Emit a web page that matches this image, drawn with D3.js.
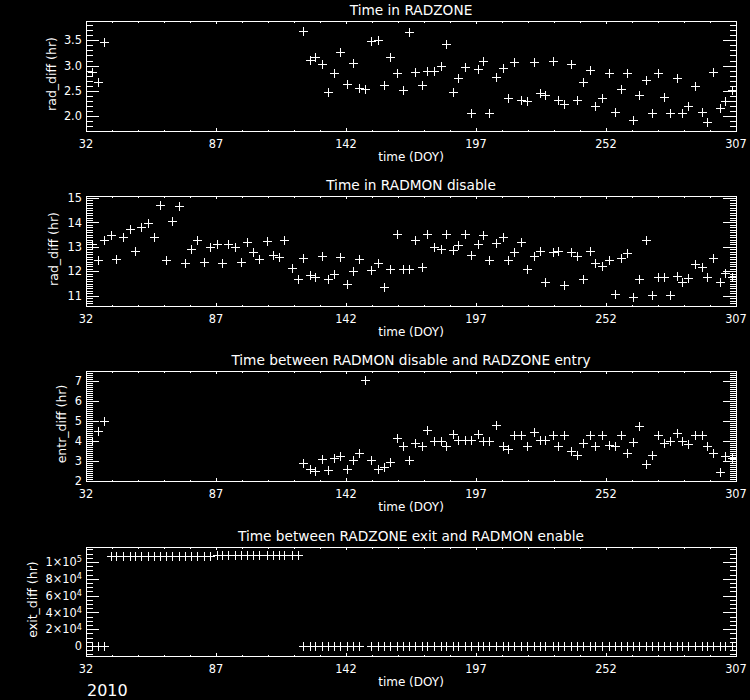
<!DOCTYPE html>
<html>
<head>
<meta charset="utf-8">
<script src="https://d3js.org/d3.v7.min.js"></script>
<style>
  body { margin: 0; background: #000; }
  text { font-family: "DejaVu Sans", sans-serif; fill: #fff; }
</style>
</head>
<body>
<div id="chart"></div>
<script>
// orbit times (DOY 2010) and the four measured differences (hr), null = no point
var doy = [34.5, 37.2, 39.8, 42.6, 44.8, 47.8, 50.5, 52.9, 55.4, 58.4,
  60.9, 63.5, 66.0, 68.5, 71.5, 74.0, 76.6, 79.1, 82.1, 84.5,
  87.3, 89.7, 92.2, 95.2, 97.7, 100.3, 102.8, 105.3, 108.4, 111.0,
  113.5, 115.9, 119.0, 121.6, 124.0, 126.6, 129.0, 131.9, 134.5, 137.1,
  139.6, 142.3, 145.1, 147.7, 150.2, 152.6, 155.7, 158.2, 160.6, 163.5,
  166.3, 168.8, 171.2, 174.0, 176.4, 179.4, 182.0, 184.5, 187.1, 189.5,
  192.4, 195.0, 197.7, 200.1, 202.7, 205.6, 208.3, 210.7, 213.2, 216.1,
  218.7, 221.5, 224.0, 226.3, 229.4, 231.8, 234.4, 237.3, 239.9, 242.4,
  245.3, 247.4, 250.2, 253.3, 255.6, 258.2, 260.8, 263.3, 266.1, 268.8,
  271.3, 273.9, 276.6, 279.1, 281.9, 284.2, 286.9, 289.7, 292.5, 294.8,
  297.4, 300.3, 302.4, 305.2];

var radDiff = [2.88, 2.67, 3.46, null, null, null, null, null, null, null,
  null, null, null, null, null, null, null, null, null, null,
  null, null, null, null, null, null, null, null, null, null,
  null, null, null, null, 3.69, 3.11, 3.16, 3.03, 2.47, 2.85,
  3.26, 2.64, 3.05, 2.55, 2.53, 3.49, 3.51, 2.61, 3.16, 2.86,
  2.52, 3.66, 2.87, 2.62, 2.89, 2.89, 2.99, 3.42, 2.47, 2.76,
  2.98, 2.07, 2.93, 3.10, 2.07, 2.78, 2.96, 2.36, 3.07, 2.32,
  2.30, 3.07, 2.45, 2.42, 3.09, 2.32, 2.24, 3.03, 2.32, 2.67,
  2.91, 2.20, 2.36, 2.85, 2.09, 2.53, 2.85, 1.93, 2.43, 2.72,
  2.06, 2.85, 2.38, 2.06, 2.75, 2.06, 2.20, 2.60, 2.08, 1.88,
  2.87, 2.16, 2.30, 2.52];

var disDiff = [13.11, 12.46, 13.28, 13.48, 12.49, 13.39, 13.71, 12.84, 13.80, 13.99,
  13.39, 14.71, 12.46, 14.07, 14.67, 12.32, 12.91, 13.28, 12.39, 13.00,
  13.10, 12.32, 13.10, 12.98, 12.39, 13.21, 12.80, 12.49, 13.24, 12.66,
  12.57, 13.28, 12.12, 11.67, 12.53, 11.84, 11.78, 12.62, 11.67, 11.89,
  12.57, 11.46, 12.01, 12.49, null, 12.05, 12.32, 11.34, 12.08, 13.52,
  12.10, 12.10, 13.30, 12.16, 13.51, 13.00, 12.91, 13.52, 12.87, 13.07,
  13.51, 12.66, 13.11, 13.48, 12.46, 13.14, 13.41, 12.46, 12.80, 13.21,
  12.08, 12.62, 12.84, 11.57, 12.80, 12.84, 11.44, 12.80, 12.62, 11.67,
  12.84, 12.35, 12.21, 12.46, 11.07, 12.53, 12.76, 10.93, 11.67, 13.28,
  11.03, 11.75, 11.75, 11.03, 11.81, 11.57, 11.71, 12.30, 12.19, 11.75,
  12.53, 11.57, 11.94, 11.75];

var entrDiff = [3.98, 4.51, 5.02, null, null, null, null, null, null, null,
  null, null, null, null, null, null, null, null, null, null,
  null, null, null, null, null, null, null, null, null, null,
  null, null, null, null, 2.90, 2.62, 2.52, 3.10, 2.57, 3.15,
  3.23, 2.62, 3.07, 3.40, 7.05, 3.07, 2.62, 2.68, 2.95, 4.15,
  3.73, 3.07, 3.90, 3.73, 4.56, 3.98, 3.98, 3.73, 4.34, 4.06,
  4.06, 4.06, 4.34, 3.98, 3.98, 4.81, 3.73, 3.61, 4.31, 4.31,
  3.73, 4.44, 4.06, 4.06, 4.31, 3.73, 4.31, 3.48, 3.32, 3.90,
  4.31, 3.73, 4.31, 3.81, 3.73, 4.28, 3.40, 3.95, 4.73, 2.85,
  3.32, 4.28, 3.90, 3.98, 4.39, 3.98, 3.85, 4.31, 4.28, 3.73,
  3.40, 2.45, 3.23, 3.15];

var exitDiff = [0, 0, 0, 107600, 107600, 107600, 107600, 107600, 107600, 107600,
  107600, 107600, 107600, 107600, 107600, 107600, 107600, 107600, 107600, 107600,
  108400, 108400, 108400, 108400, 108400, 108400, 108400, 108400, 108400, 108400,
  108400, 108400, 108400, 108400, 0, 0, 0, 0, 0, 0,
  0, 0, 0, 0, null, 0, 0, 0, 0, 0,
  0, 0, 0, 0, 0, 0, 0, 0, 0, 0,
  0, 0, 0, 0, 0, 0, 0, 0, 0, 0,
  0, 0, 0, 0, 0, 0, 0, 0, 0, 0,
  0, 0, 0, 0, 0, 0, 0, 0, 0, 0,
  0, 0, 0, 0, 0, 0, 0, 0, 0, 0,
  0, 0, 0, 0];

var xTicks = [32, 87, 142, 197, 252, 307];
var panelTitles = ["Time in RADZONE", "Time in RADMON disable",
  "Time between RADMON disable and RADZONE entry", "Time between RADZONE exit and RADMON enable"];
var yTitles = ["rad_diff (hr)", "rad_diff (hr)", "entr_diff (hr)", "exit_diff (hr)"];
var yTicks1 = [2.0, 2.5, 3.0, 3.5];
var yTicks2 = [11, 12, 13, 14, 15];
var yTicks3 = [2, 3, 4, 5, 6, 7];
var yTicks4 = [0, 20000, 40000, 60000, 80000, 100000];

var W = 750, H = 700;
var left = 86, right = 736;

var svg = d3.select("#chart").append("svg")
  .attr("width", W)
  .attr("height", H);

svg.append("rect").attr("width", W).attr("height", H).attr("fill", "#000");

var x = d3.scaleLinear().domain([32, 307]).range([left, right]);
var xMinor = d3.range(32, 308, 11);

function sci(v) {
  if (v === 0) return null;
  var e = Math.floor(Math.log10(v) + 1e-9);
  return [Math.round(v / Math.pow(10, e)), e];
}

function drawPanel(p) {
  var top = p.top, bottom = p.bottom;
  var y = d3.scaleLinear().domain(p.domain).range([bottom, top]);
  var g = svg.append("g").attr("shape-rendering", "crispEdges");

  // minor ticks
  var yMinor = d3.range(Math.ceil(p.domain[0] / p.minor) * p.minor, p.domain[1], p.minor);
  g.selectAll(".ymin").data(yMinor).join("path")
    .attr("d", function(d) {
      var yy = Math.round(y(d)) + 0.5;
      return "M" + left + "," + yy + "h6.5M" + right + "," + yy + "h-6.5";
    })
    .attr("stroke", "#fff");
  g.selectAll(".xmin").data(xMinor).join("path")
    .attr("d", function(d) {
      var xx = Math.round(x(d)) + 0.5;
      return "M" + xx + "," + bottom + "v-1.5M" + xx + "," + top + "v1.5";
    })
    .attr("stroke", "#fff");

  // major ticks
  g.selectAll(".ymaj").data(p.yTicks).join("path")
    .attr("d", function(d) {
      var yy = Math.round(y(d)) + 0.5;
      return "M" + left + "," + yy + "h13M" + right + "," + yy + "h-13";
    })
    .attr("stroke", "#fff");
  g.selectAll(".xmaj").data(xTicks).join("path")
    .attr("d", function(d) {
      var xx = Math.round(x(d)) + 0.5;
      return "M" + xx + "," + bottom + "v-3M" + xx + "," + top + "v3";
    })
    .attr("stroke", "#fff");

  // frame
  g.append("rect")
    .attr("x", left + 0.5).attr("y", top + 0.5)
    .attr("width", right - left).attr("height", bottom - top)
    .attr("fill", "none").attr("stroke", "#fff");

  // tick labels
  svg.selectAll(null).data(xTicks).join("text")
    .attr("x", function(d) { return x(d); })
    .attr("y", bottom + 16.5)
    .attr("text-anchor", "middle")
    .attr("font-size", 11.4)
    .text(function(d) { return d; });

  var yl = svg.selectAll(null).data(p.yTicks).join("text")
    .attr("x", 82)
    .attr("y", function(d) { return y(d) + 4.2; })
    .attr("text-anchor", "end")
    .attr("font-size", 11.4);
  if (p.sci) {
    yl.each(function(d) {
      var t = d3.select(this), s = sci(d);
      if (!s) { t.text("0"); return; }
      t.append("tspan").text(s[0] + "\u00d710");
      t.append("tspan").attr("dy", "-0.45em").attr("font-size", "0.72em").text(s[1]);
    });
  } else {
    yl.text(function(d) { return d3.format(p.fmt)(d); });
  }

  // titles
  svg.append("text")
    .attr("x", (left + right) / 2).attr("y", top - 6)
    .attr("text-anchor", "middle").attr("font-size", 13.7)
    .text(p.title);
  svg.append("text")
    .attr("x", (left + right) / 2).attr("y", bottom + 30)
    .attr("text-anchor", "middle").attr("font-size", 12)
    .text("time (DOY)");
  svg.append("text")
    .attr("transform", "translate(" + p.yTitleX + "," + ((top + bottom) / 2 - 2) + ") rotate(-90)")
    .attr("text-anchor", "middle").attr("font-size", 12.5)
    .text(p.yTitle);

  // data: plus symbols
  var pts = doy.map(function(d, i) { return [d, p.values[i]]; })
    .filter(function(d) { return d[1] !== null; });
  g.selectAll(".pt").data(pts).join("path")
    .attr("d", function(d) {
      var cx = Math.round(x(d[0])) + 0.5, cy = Math.round(y(d[1])) + 0.5;
      return "M" + (cx - 4.5) + "," + cy + "h9M" + cx + "," + (cy - 4.5) + "v9";
    })
    .attr("stroke", "#fff").attr("fill", "none");
}

drawPanel({ top: 21, bottom: 131, domain: [1.71, 3.88], yTicks: yTicks1, minor: 0.1, fmt: ".1f",
  values: radDiff, title: panelTitles[0], yTitle: yTitles[0], yTitleX: 56 });
drawPanel({ top: 196, bottom: 306, domain: [10.58, 15.08], yTicks: yTicks2, minor: 0.1, fmt: "d",
  values: disDiff, title: panelTitles[1], yTitle: yTitles[1], yTitleX: 58 });
drawPanel({ top: 371, bottom: 481, domain: [2.0, 7.5], yTicks: yTicks3, minor: 0.1, fmt: "d",
  values: entrDiff, title: panelTitles[2], yTitle: yTitles[2], yTitleX: 66 });
drawPanel({ top: 547, bottom: 656, domain: [-11900, 117800], yTicks: yTicks4, minor: 5000, sci: true,
  values: exitDiff, title: panelTitles[3], yTitle: yTitles[3], yTitleX: 37 });

svg.append("text")
  .attr("x", 87).attr("y", 696)
  .attr("font-size", 16)
  .text("2010");
</script>
</body>
</html>
